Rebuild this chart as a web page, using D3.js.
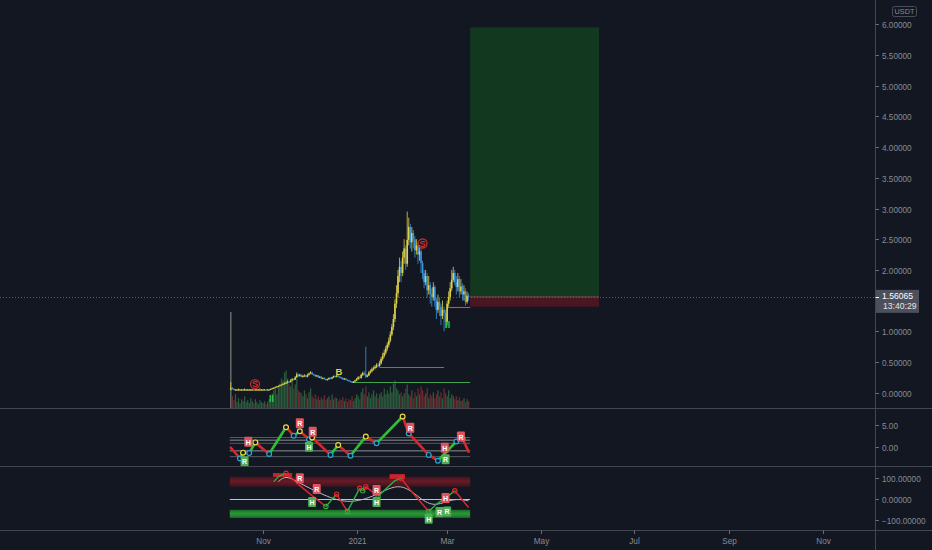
<!DOCTYPE html>
<html><head><meta charset="utf-8">
<script src="https://cdn.jsdelivr.net/npm/d3@7"></script>
<style>html,body{margin:0;padding:0;background:#131722;overflow:hidden}</style>
</head><body><svg id="c" width="932" height="550"></svg>
<script>
// ---------------- DATA ----------------
const startDate = "2020-10-11";           // first daily candle
const firstOpen = 0.05;
const closes = [
 0.08,0.06,0.05,0.05,0.05,0.05,0.05,0.05,0.05,0.05,0.05,0.05,0.05,0.05,0.05,0.04,0.05,0.05,0.05,0.05,0.05,0.05,0.05,0.04,0.05,0.05,
 0.06,0.07,0.08,0.09,0.10,0.11,0.12,0.13,0.14,0.15,0.16,
 0.18,0.17,0.20,0.22,0.21,0.25,0.30,0.27,0.29,
 0.26,0.27,0.28,0.26,0.29,0.31,0.33,0.30,
 0.29,0.27,0.28,0.25,0.26,0.23,0.24,0.22,0.21,
 0.22,0.24,0.23,0.25,0.27,0.26,0.28,0.26,
 0.25,0.24,0.22,0.23,0.21,0.20,0.19,0.18,0.17,0.18,
 0.20,0.22,0.25,0.24,0.29,0.32,
 0.30,0.26,0.28,0.33,0.35,0.38,0.40,
 0.42,0.45,0.44,0.48,
 0.55,0.60,0.65,0.72,0.78,
 0.85,0.95,1.07,1.20,
 1.45,1.62,1.90,2.05,1.95,2.20,
 2.35,2.10,2.49,2.70,2.45,2.60,
 2.50,2.32,2.40,2.25,2.30,2.11,
 1.95,1.80,1.90,1.67,1.75,1.60,1.56,
 1.72,1.50,1.35,1.48,1.40,1.25,1.35,1.30,
 1.15,1.45,1.56,1.70,1.84,1.95,
 1.80,1.72,1.85,1.65,1.73,
 1.60,1.65,1.48,1.58,1.56];
const highs = [
 0.17,0.09,0.07,0.06,0.06,0.07,0.06,0.06,0.06,0.07,0.06,0.06,0.06,0.06,0.06,0.06,0.06,0.06,0.06,0.07,0.06,0.06,0.06,0.06,0.06,0.06,
 0.07,0.08,0.09,0.10,0.11,0.12,0.13,0.14,0.16,0.17,0.18,
 0.20,0.19,0.22,0.24,0.23,0.27,0.33,0.31,0.31,
 0.30,0.29,0.30,0.29,0.31,0.33,0.35,0.34,
 0.31,0.30,0.29,0.29,0.27,0.27,0.25,0.25,0.23,
 0.23,0.25,0.25,0.26,0.28,0.28,0.29,0.29,
 0.27,0.26,0.25,0.24,0.24,0.22,0.21,0.20,0.19,0.19,
 0.21,0.24,0.27,0.27,0.31,0.34,
 0.35,0.75,0.30,0.35,0.38,0.41,0.43,
 0.45,0.48,0.48,0.52,
 0.58,0.65,0.70,0.76,0.82,
 0.90,1.00,1.12,1.28,
 1.52,1.75,2.00,2.20,2.15,2.30,
 2.50,2.40,2.95,2.85,2.75,2.70,
 2.65,2.55,2.50,2.45,2.40,2.35,
 2.15,2.00,2.00,1.95,1.90,1.80,1.70,
 1.80,1.75,1.55,1.60,1.55,1.45,1.50,1.40,
 1.35,1.50,1.65,1.80,2.00,2.05,
 2.00,1.90,1.95,1.90,1.85,
 1.78,1.75,1.70,1.65,1.62];
const lows = [
 0.04,0.05,0.04,0.04,0.04,0.04,0.04,0.04,0.04,0.04,0.04,0.04,0.04,0.04,0.04,0.03,0.04,0.04,0.04,0.04,0.04,0.04,0.04,0.03,0.04,0.04,
 0.05,0.06,0.07,0.08,0.09,0.10,0.11,0.12,0.13,0.14,0.15,
 0.15,0.16,0.17,0.19,0.20,0.21,0.24,0.26,0.26,
 0.25,0.25,0.26,0.25,0.25,0.28,0.30,0.29,
 0.28,0.26,0.26,0.24,0.24,0.22,0.22,0.21,0.20,
 0.20,0.21,0.22,0.22,0.24,0.25,0.25,0.25,
 0.24,0.22,0.21,0.21,0.20,0.19,0.18,0.17,0.16,0.16,
 0.17,0.19,0.21,0.22,0.23,0.27,
 0.28,0.24,0.25,0.27,0.31,0.33,0.36,
 0.38,0.40,0.41,0.42,
 0.46,0.52,0.57,0.62,0.68,
 0.74,0.82,0.92,1.02,
 1.15,1.38,1.55,1.80,1.80,1.90,
 2.10,2.00,2.05,2.40,2.35,2.30,
 2.35,2.20,2.25,2.10,2.15,1.95,
 1.85,1.70,1.75,1.55,1.60,1.45,1.40,
 1.50,1.40,1.20,1.30,1.25,1.10,1.20,1.00,
 1.05,1.10,1.40,1.50,1.65,1.80,
 1.75,1.60,1.65,1.55,1.60,
 1.50,1.50,1.42,1.45,1.50];
const volumes = [
 98,12,8,14,6,10,5,9,7,12,6,8,5,10,7,5,9,6,4,8,6,5,7,4,6,9,
 12,15,18,20,14,22,25,30,28,36,38,
 30,25,22,28,20,24,30,18,16,
 15,12,18,14,10,16,20,12,
 10,14,9,12,8,11,9,13,8,
 10,12,8,14,9,11,10,7,
 9,8,11,7,10,6,9,8,12,7,
 10,14,12,9,16,20,
 14,22,12,16,10,14,18,
 12,15,10,14,
 16,12,20,14,18,
 15,22,16,25,
 28,20,18,14,16,12,
 15,20,24,14,12,18,
 10,16,12,20,14,22,
 18,12,15,20,10,14,12,
 16,10,14,18,12,16,10,20,
 15,12,18,10,14,12,
 9,12,8,11,7,
 8,10,6,9,7];

// 1.50000 is hidden behind the last-price badge in the reference
const priceTicks = [0,0.5,1,2,2.5,3,3.5,4,4.5,5,5.5,6];
const timeTickDates = ["2020-11-01","2021-01-01","2021-03-01","2021-05-01","2021-07-01","2021-09-01","2021-11-01"];
const timeTickLabels = ["Nov","2021","Mar","May","Jul","Sep","Nov"];
const lastPrice = 1.56065, countdown = "13:40:29", currency = "USDT";

// long position tool
const posStart = "2021-03-16", posEnd = "2021-06-08";
const posTarget = 5.95, posEntry = 1.56065, posStop = 1.40;

// horizontal level lines
const levelPrice = [0.42, 0.17, 1.40];
const levelFrom  = ["2021-01-16","2020-12-29","2021-03-01"];
const levelTo    = ["2021-02-27","2021-03-16","2021-03-16"];
const levelKind  = ["red","green","red"];

// main pane signal glyphs (day index, price, text, kind)
const sigDay   = [15.8, 26.6, 70.5, 125, 141.5];
const sigPrice = [0.14, -0.10, 0.34, 2.43, 1.10];
const sigText  = ["S", "ll", "B", "S", "ll"];
const sigKind  = ["sell","buy","mid","sell","buy"];

// pane 1 oscillator
const osc1Day = [0,6,8,12,16,25,36,41,45,51,53,65,70,78,88,95,112,116,129,135,147,151,155];
const osc1Val = [-0.1,-2.5,-1.2,-1.3,1.1,-1.5,4.5,2.6,3.6,1.8,2.2,-1.7,0.5,-1.9,2.4,0.9,6.9,3.1,-1.7,-3.0,1.3,2.0,-1.0];
const osc1Levels = [2.2, 1.6, 0.9, -0.8, -2.1];
const osc1Ticks = [5, 0];
const osc1LabDay  = [9, 11.4, 45, 53.4, 51, 117, 139.5, 140, 150];
const osc1LabVal  = [-3.1, 1.25, 5.4, 3.5, 0.1, 4.4, -0.1, -2.7, 2.4];
const osc1LabText = ["R","H","R","R","H","R","H","R","R"];
const osc1LabKind = ["buy","sell","sell","sell","buy","sell","sell","buy","sell"];

// pane 2 oscillator
const osc2Day = [28,31,36,44,53,62,69,76,84,86,88,96,107,111,117,129,134,140,146,155];
const osc2Val = [84,108,124,71,17,-35,24,-59,52,40,60,14,89,100,44,-59,-24,5,40,-40];
const osc2SigDay = [31,36,45,58,76,95,111,125,134,145,155];
const osc2SigVal = [84,116,76,28,-27,17,87,-11,-35,5,-8];
const osc2Ticks = [100, 0, -100];
const osc2TopBand = [60, 108], osc2BotBand = [-90, -51];
const osc2HotFrom = [27.5, 103.5], osc2HotTo = [40, 113.5];
const osc2HotLo = [107, 97], osc2HotHi = [125, 120];
const osc2LabDay  = [45, 56, 53, 95, 95, 129, 136, 141, 140];
const osc2LabVal  = [100, 49, -14, 44, -14, -94, -62, -59, 5];
const osc2LabText = ["R","R","H","R","H","H","R","R","H"];
const osc2LabKind = ["sell","sell","buy","sell","buy","buy","buy","buy","sell"];

// ---------------- RENDER ----------------
const svg = d3.select("#c");
const W = 932, H = 550;
const axisX = 875.5;
const font = "'Liberation Sans', Arial, sans-serif";
const txtCol = "#878b96", sepCol = "#434651";

const parse = d3.utcParse("%Y-%m-%d");
const d0 = parse(startDate);
const dayDate = i => new Date(d0.getTime() + i * 86400000);
const x = d3.scaleUtc().domain([parse("2020-11-01"), parse("2021-11-01")]).range([263, 823]);
const xi = i => x(dayDate(i));
const y = d3.scaleLinear().domain([0, 6]).range([392.7, 24.3]);
const y1 = d3.scaleLinear().domain([0, 5]).range([447.3, 425]);
const y2 = d3.scaleLinear().domain([-100, 100]).range([520, 478.3]);
const vh = d3.scaleLinear().domain([0, 100]).range([0, 98]);

svg.append("rect").attr("width", W).attr("height", H).attr("fill", "#131722");

const defs = svg.append("defs");
defs.append("clipPath").attr("id","cp0").append("rect").attr("x",0).attr("y",0).attr("width",axisX).attr("height",408);
defs.append("clipPath").attr("id","cp1").append("rect").attr("x",0).attr("y",409).attr("width",axisX).attr("height",57);
defs.append("clipPath").attr("id","cp2").append("rect").attr("x",0).attr("y",467).attr("width",axisX).attr("height",63);

const candles = closes.map((c, i) => ({
  i, date: dayDate(i), open: i ? closes[i-1] : firstOpen, close: c, high: highs[i], low: lows[i], vol: volumes[i]
}));

// ---- main pane
const g0 = svg.append("g").attr("clip-path", "url(#cp0)");
const px0 = x(parse(posStart)), px1 = x(parse(posEnd));
g0.append("rect").attr("x", px0).attr("y", y(posTarget)).attr("width", px1 - px0)
  .attr("height", y(posEntry) - y(posTarget)).attr("fill", "#12381f");
g0.append("rect").attr("x", px0).attr("y", y(posEntry)).attr("width", px1 - px0)
  .attr("height", y(posStop) - y(posEntry)).attr("fill", "#4a1621");
g0.append("line").attr("x1", px0).attr("x2", px1).attr("y1", y(posEntry)).attr("y2", y(posEntry))
  .attr("stroke", "#7a4a50").attr("stroke-width", 1);

g0.append("line").attr("x1", 0).attr("x2", axisX).attr("y1", Math.round(y(lastPrice)) + 0.5).attr("y2", Math.round(y(lastPrice)) + 0.5)
  .attr("stroke", "#5d606b").attr("stroke-dasharray", "1,2");

g0.selectAll("rect.vol").data(candles).join("rect").attr("class", "vol")
  .attr("x", d => xi(d.i) - 0.6).attr("width", 1.3)
  .attr("y", d => 408 - vh(d.vol)).attr("height", d => vh(d.vol))
  .attr("fill", (d) => d.i === 0 ? "#6d7a72" : (d.close >= d.open ? "#2c5a3c" : "#6a2a30"));

levelPrice.forEach((p, k) => {
  g0.append("line").attr("x1", x(parse(levelFrom[k]))).attr("x2", x(parse(levelTo[k])))
    .attr("y1", Math.round(y(p)) + 0.5).attr("y2", Math.round(y(p)) + 0.5)
    .attr("stroke", levelKind[k] === "red" ? "#e0424e" : "#3ea54e").attr("stroke-width", 1.1);
});

const upC = "#ddd347", dnC = "#3d93da";
const cg = g0.append("g");
candles.forEach(d => {
  const col = d.close >= d.open ? upC : dnC;
  const cx = xi(d.i);
  cg.append("line").attr("x1", cx).attr("x2", cx)
    .attr("y1", y(Math.max(d.high, d.open, d.close))).attr("y2", y(Math.min(d.low, d.open, d.close)))
    .attr("stroke", col).attr("stroke-width", 0.8);
  const top = y(Math.max(d.open, d.close)), bot = y(Math.min(d.open, d.close));
  cg.append("rect").attr("x", cx - 0.8).attr("width", 1.6).attr("y", top).attr("height", Math.max(1, bot - top)).attr("fill", col);
});

sigDay.forEach((dd, k) => {
  const sx = xi(dd), sy = y(sigPrice[k]);
  const kind = sigKind[k];
  if (kind === "sell") {
    g0.append("circle").attr("cx", sx).attr("cy", sy).attr("r", 4.5).attr("fill", "none").attr("stroke", "#c62828").attr("stroke-width", 1.3);
  }
  g0.append("text").attr("x", sx).attr("y", sy + 3.3).attr("text-anchor", "middle")
    .attr("font-family", font).attr("font-weight", "bold").attr("font-size", kind === "mid" ? 9.5 : 9)
    .attr("fill", kind === "sell" ? "#d32f2f" : kind === "buy" ? "#25d040" : "#e0d24a").text(sigText[k]);
});

// ---- pane 1
const g1 = svg.append("g").attr("clip-path", "url(#cp1)");
const oxA = xi(0) - 1, oxB = xi(155) + 1.5;
osc1Levels.forEach((lv, k) => {
  g1.append("line").attr("x1", oxA).attr("x2", oxB).attr("y1", y1(lv)).attr("y2", y1(lv))
    .attr("stroke", k === 1 || k === 3 ? "#9a9ca5" : "#5f626c").attr("stroke-width", 0.9);
});
const o1 = osc1Day.map((dd, k) => ({ x: xi(dd), y: y1(osc1Val[k]), v: osc1Val[k] }));
for (let k = 0; k < o1.length - 1; k++) {
  const a = o1[k], b = o1[k+1];
  g1.append("line").attr("x1", a.x).attr("y1", a.y).attr("x2", b.x).attr("y2", b.y)
    .attr("stroke", b.v >= a.v ? "#2fbf36" : "#d4282b").attr("stroke-width", 2.6).attr("stroke-linecap", "round");
}
for (let k = 1; k < o1.length - 1; k++) {
  const p = o1[k];
  const peak = p.v > o1[k-1].v && p.v > o1[k+1].v;
  g1.append("circle").attr("cx", p.x).attr("cy", p.y).attr("r", 2.4).attr("fill", "#131722")
    .attr("stroke", peak ? "#e6dc3c" : "#27a9d6").attr("stroke-width", 1.2);
}
function labBox(g, lx, ly, t, kind) {
  g.append("rect").attr("x", lx - 4).attr("y", ly - 5).attr("width", 8).attr("height", 10).attr("rx", 1)
    .attr("fill", kind === "sell" ? "#e05460" : "#4fae55");
  g.append("text").attr("x", lx).attr("y", ly + 3).attr("text-anchor", "middle").attr("font-family", font)
    .attr("font-weight", "bold").attr("font-size", 7).attr("fill", "#ffffff").text(t);
}
osc1LabDay.forEach((dd, k) => labBox(g1, xi(dd), y1(osc1LabVal[k]), osc1LabText[k], osc1LabKind[k]));

// ---- pane 2
const g2 = svg.append("g").attr("clip-path", "url(#cp2)");
const redG = defs.append("linearGradient").attr("id", "rg").attr("x1", 0).attr("x2", 0).attr("y1", 0).attr("y2", 1);
redG.append("stop").attr("offset", "0%").attr("stop-color", "#3a1520");
redG.append("stop").attr("offset", "45%").attr("stop-color", "#6a1a25");
redG.append("stop").attr("offset", "100%").attr("stop-color", "#3a1520");
const grnG = defs.append("linearGradient").attr("id", "gg").attr("x1", 0).attr("x2", 0).attr("y1", 0).attr("y2", 1);
grnG.append("stop").attr("offset", "0%").attr("stop-color", "#1c6a28");
grnG.append("stop").attr("offset", "50%").attr("stop-color", "#2a9a38");
grnG.append("stop").attr("offset", "100%").attr("stop-color", "#1c6a28");
g2.append("rect").attr("x", oxA).attr("width", oxB - oxA).attr("y", y2(osc2TopBand[1])).attr("height", y2(osc2TopBand[0]) - y2(osc2TopBand[1])).attr("fill", "url(#rg)");
g2.append("rect").attr("x", oxA).attr("width", oxB - oxA).attr("y", y2(osc2BotBand[1])).attr("height", y2(osc2BotBand[0]) - y2(osc2BotBand[1])).attr("fill", "url(#gg)");
g2.append("line").attr("x1", oxA).attr("x2", oxB).attr("y1", Math.round(y2(0)) + 0.5).attr("y2", Math.round(y2(0)) + 0.5)
  .attr("stroke", "#c3c5cc").attr("stroke-width", 1);
osc2HotFrom.forEach((f, k) => {
  g2.append("rect").attr("x", xi(f)).attr("width", xi(osc2HotTo[k]) - xi(f))
    .attr("y", y2(osc2HotHi[k])).attr("height", y2(osc2HotLo[k]) - y2(osc2HotHi[k])).attr("fill", "#c8232e");
});
g2.append("path").datum(osc2SigDay.map((dd, k) => [xi(dd), y2(osc2SigVal[k])]))
  .attr("d", d3.line().curve(d3.curveBasis)).attr("fill", "none").attr("stroke", "#b8bac2").attr("stroke-width", 1);
const o2 = osc2Day.map((dd, k) => ({ x: xi(dd), y: y2(osc2Val[k]), v: osc2Val[k] }));
for (let k = 0; k < o2.length - 1; k++) {
  const a = o2[k], b = o2[k+1];
  g2.append("line").attr("x1", a.x).attr("y1", a.y).attr("x2", b.x).attr("y2", b.y)
    .attr("stroke", b.v >= a.v ? "#2bb33e" : "#e3262b").attr("stroke-width", 1.4);
}
for (let k = 1; k < o2.length - 1; k++) {
  const p = o2[k];
  const peak = p.v > o2[k-1].v && p.v > o2[k+1].v;
  const trough = p.v < o2[k-1].v && p.v < o2[k+1].v;
  if (!peak && !trough) continue;
  g2.append("circle").attr("cx", p.x).attr("cy", p.y).attr("r", 2.2).attr("fill", "none")
    .attr("stroke", peak ? "#e3262b" : "#2bb33e").attr("stroke-width", 1.1);
}
osc2LabDay.forEach((dd, k) => labBox(g2, xi(dd), y2(osc2LabVal[k]), osc2LabText[k], osc2LabKind[k]));

// ---- separators & axes
[408.5, 466.5, 530.5].forEach(yy => svg.append("line").attr("x1", 0).attr("x2", W).attr("y1", yy).attr("y2", yy).attr("stroke", sepCol));
svg.append("line").attr("x1", axisX).attr("x2", axisX).attr("y1", 0).attr("y2", H).attr("stroke", sepCol);

function priceAxis(scale, ticks, fmt) {
  const ax = svg.append("g");
  ticks.forEach(t => {
    const yy = Math.round(scale(t)) + 0.5;
    ax.append("line").attr("x1", axisX).attr("x2", axisX + 3.5).attr("y1", yy).attr("y2", yy).attr("stroke", "#6a6d78");
    ax.append("text").attr("x", axisX + 6.5).attr("y", yy + 3).attr("font-family", font).attr("font-size", 8.2)
      .attr("fill", txtCol).text(fmt(t));
  });
}
priceAxis(y, priceTicks, d3.format(".5f"));
priceAxis(y1, osc1Ticks, d3.format(".2f"));
priceAxis(y2, osc2Ticks, d => d3.format(".5f")(d).replace("-", "\u2212"));

timeTickDates.forEach((ds, k) => {
  const tx = Math.round(x(parse(ds))) + 0.5;
  svg.append("line").attr("x1", tx).attr("x2", tx).attr("y1", 530.5).attr("y2", 534).attr("stroke", "#6a6d78");
  svg.append("text").attr("x", tx).attr("y", 544).attr("text-anchor", "middle").attr("font-family", font)
    .attr("font-size", 8.2).attr("fill", txtCol).text(timeTickLabels[k]);
});

const ly = y(lastPrice);
svg.append("rect").attr("x", axisX + 0.5).attr("y", ly - 7).attr("width", 43).attr("height", 23).attr("fill", "#4b505c");
svg.append("line").attr("x1", axisX).attr("x2", axisX + 3.5).attr("y1", Math.round(ly) + 0.5).attr("y2", Math.round(ly) + 0.5).attr("stroke", "#ffffff");
svg.append("text").attr("x", axisX + 6.5).attr("y", ly + 2.5).attr("font-family", font).attr("font-size", 8.6)
  .attr("fill", "#ffffff").text(d3.format(".5f")(lastPrice));
svg.append("text").attr("x", axisX + 7.5).attr("y", ly + 12.5).attr("font-family", font).attr("font-size", 8.6)
  .attr("fill", "#e6e7ea").text(countdown);

svg.append("rect").attr("x", 892.5).attr("y", 6.5).attr("width", 24).attr("height", 10).attr("rx", 2)
  .attr("fill", "none").attr("stroke", "#4a4d58");
svg.append("text").attr("x", 904.5).attr("y", 14).attr("text-anchor", "middle").attr("font-family", font)
  .attr("font-size", 7.3).attr("fill", txtCol).text(currency);
</script></body></html>
